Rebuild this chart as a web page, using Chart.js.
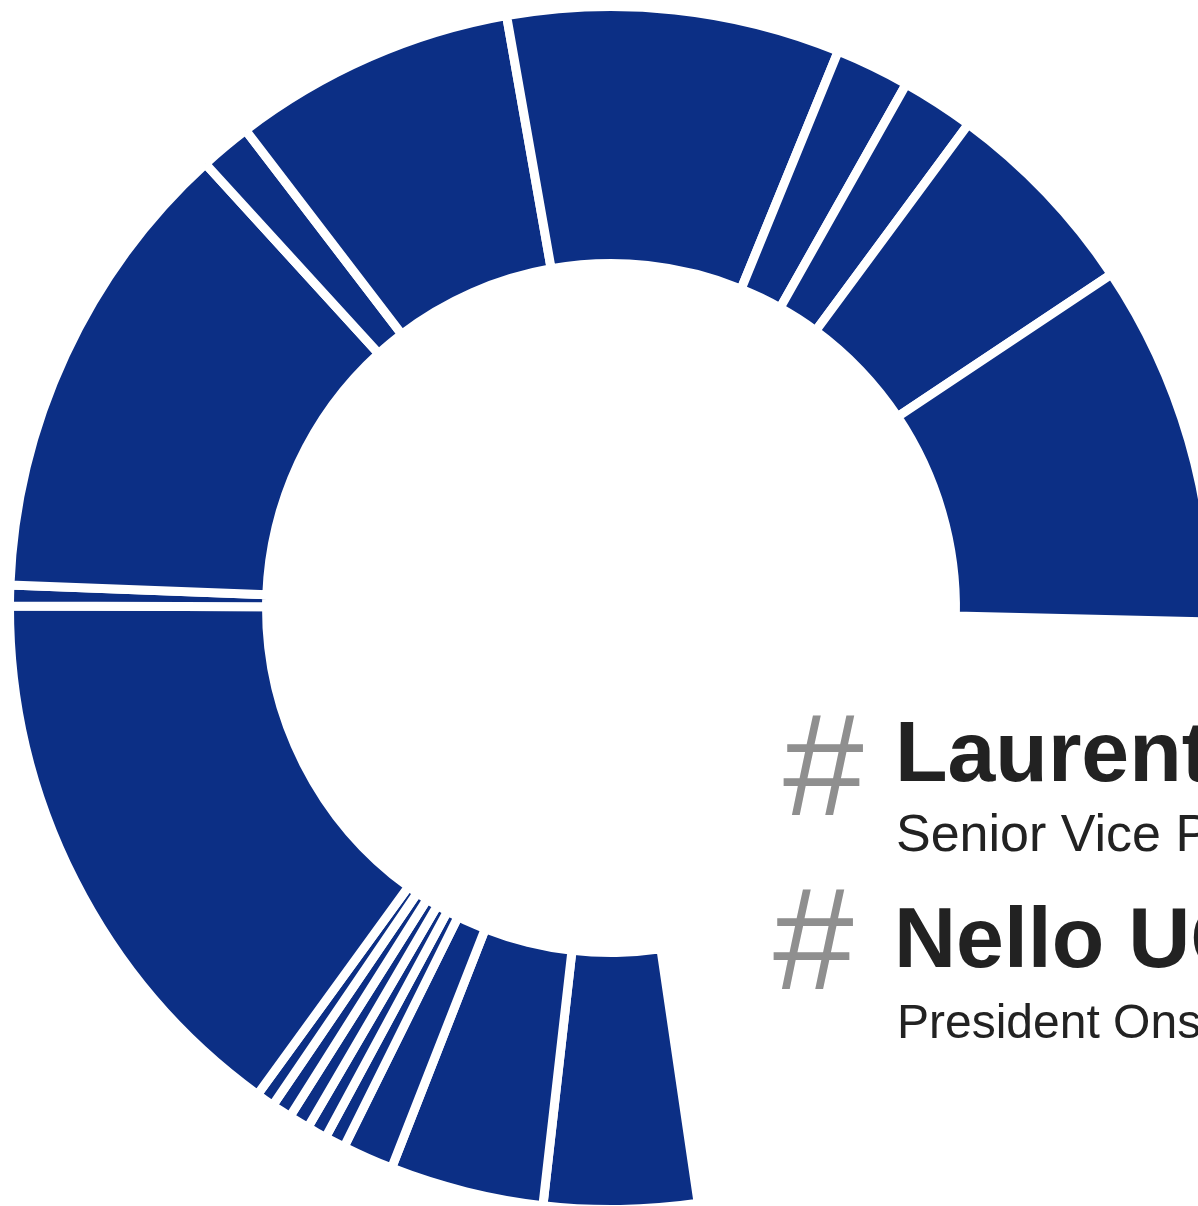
<!DOCTYPE html>
<html>
<head>
<meta charset="utf-8">
<script src="https://cdn.jsdelivr.net/npm/chart.js@4.4.1/dist/chart.umd.min.js"></script>
<style>
  html, body { margin: 0; padding: 0; background: #ffffff; overflow: hidden; width: 1198px; height: 1206px; }
  #wrap { position: absolute; left: 0; top: 0; width: 1222px; height: 1216px; }
  .t { position: absolute; white-space: nowrap; font-family: "Liberation Sans", Arial, sans-serif; line-height: 1; margin: 0; }
  .hash { color: #8f8f8f; font-size: 145px; }
  .name { color: #222222; font-weight: bold; font-size: 86px; }
  .sub1 { color: #222222; font-size: 52px; }
  .sub2 { color: #222222; font-size: 48px; }
</style>
</head>
<body>
<div id="wrap"><canvas id="c" width="1222" height="1216"></canvas></div>
<div class="t hash" style="left:783px; top:693px;">#</div>
<div class="t name" style="left:895px; top:708px;">Laurent MAUREL</div>
<div class="t sub1" style="left:896px; top:807px;">Senior Vice President</div>
<div class="t hash" style="left:773px; top:867px;">#</div>
<div class="t name" style="left:894px; top:894px;">Nello UCCELLETTI</div>
<div class="t sub2" style="left:897px; top:998px;">President Onshore</div>
<script>
// Segment labels (clockwise from the bottom start of the ring)
const categories = [
  'Slice 1', 'Slice 2', 'Slice 3', 'Slice 4', 'Slice 5', 'Slice 6',
  'Slice 7', 'Slice 8', 'Slice 9', 'Slice 10', 'Slice 11', 'Slice 12',
  'Slice 13', 'Slice 14', 'Slice 15', 'Slice 16', 'Slice 17', 'Slice 18'
];
// Values (share of the ring, in degrees of arc)
const values = [14.83, 14.9, 4.95, 1.98, 1.94, 2.0, 1.95, 1.78, 54.2, 2.0, 45.4, 5.0, 27.4, 32.2, 7.2, 7.05, 19.85, 35.03];
const startAngle = 171.67;   // where the first slice begins (degrees, clockwise from top)

const totalArc = values.reduce((a, b) => a + b, 0);

new Chart(document.getElementById('c'), {
  type: 'doughnut',
  data: {
    labels: categories,
    datasets: [{
      data: values,
      backgroundColor: '#0c2f85',
      borderColor: '#ffffff',
      borderWidth: 9,
      hoverOffset: 0
    }]
  },
  options: {
    responsive: false,
    animation: false,
    events: [],
    rotation: startAngle,
    circumference: totalArc,
    radius: 601.5,
    cutout: '57.27%',
    layout: { padding: 0 },
    plugins: {
      legend: { display: false },
      tooltip: { enabled: false },
      title: { display: false }
    }
  }
});
</script>
</body>
</html>
